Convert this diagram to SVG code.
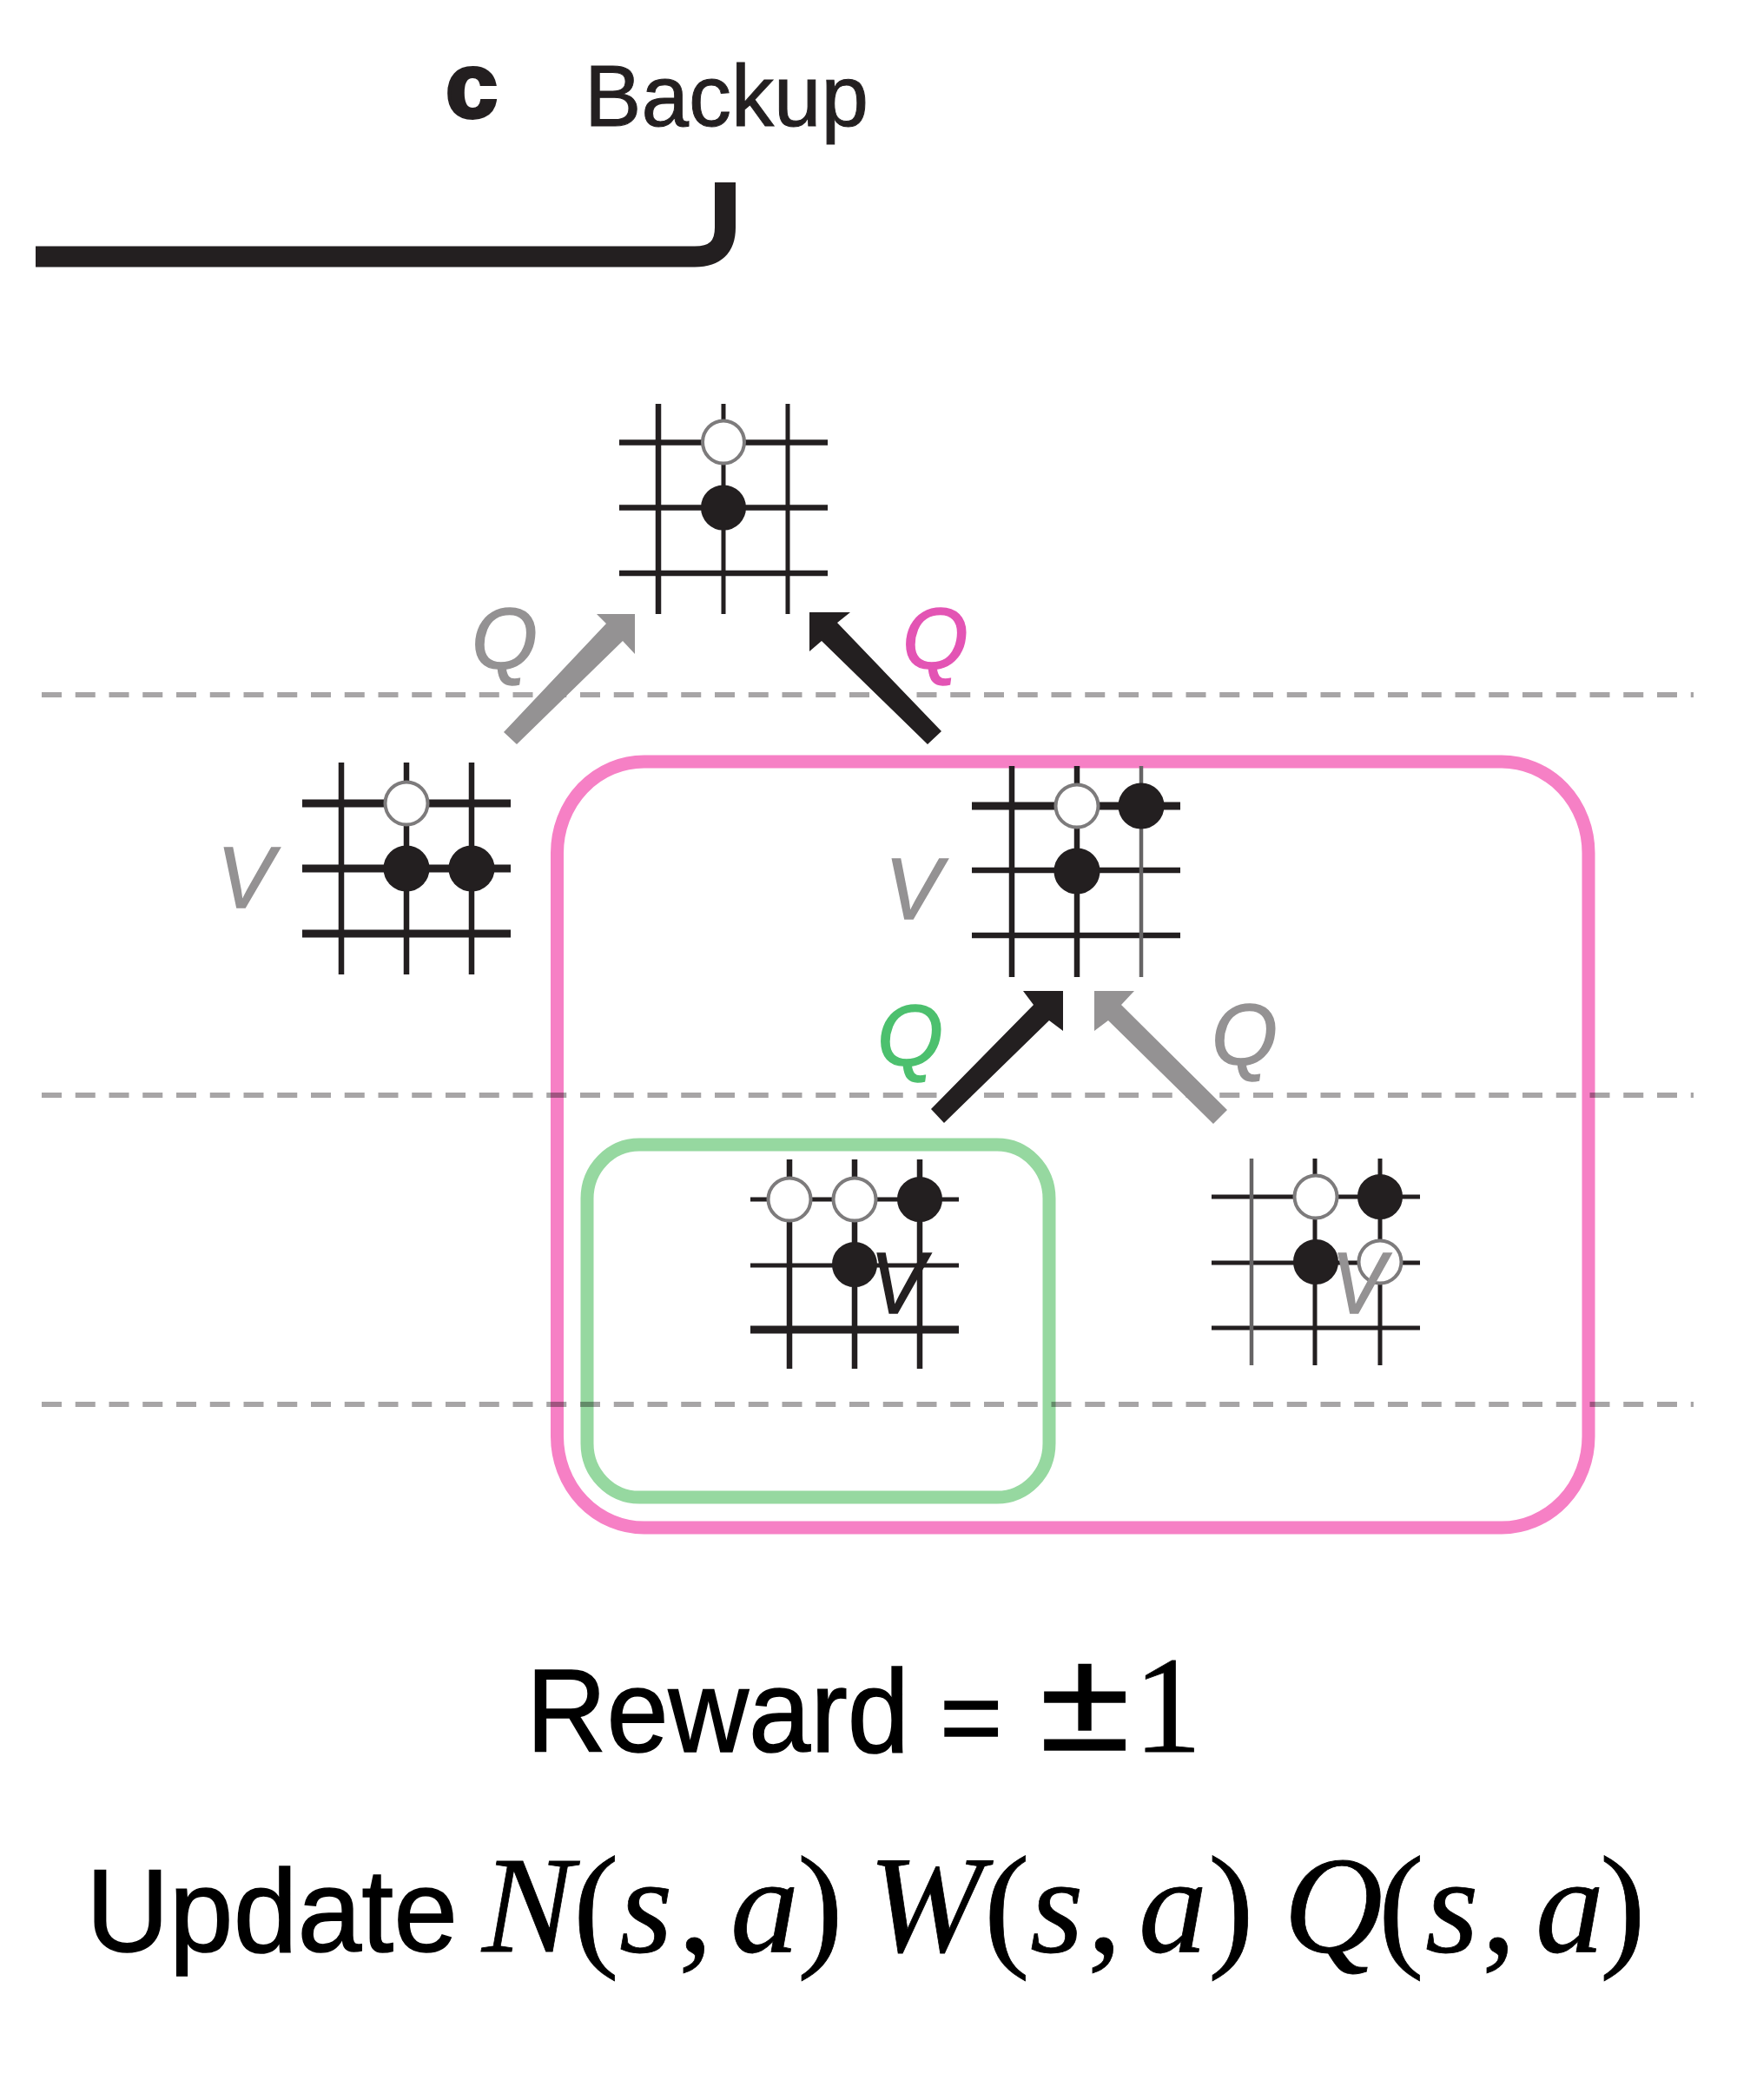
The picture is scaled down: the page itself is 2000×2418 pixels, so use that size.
<svg xmlns="http://www.w3.org/2000/svg" width="2000" height="2418" viewBox="0 0 2000 2418">
<style>
.thin{stroke:#231f20;stroke-width:5;fill:none}
.mid{stroke:#231f20;stroke-width:6.5;fill:none}
.thick{stroke:#231f20;stroke-width:9;fill:none}
.faint{stroke:#666465;stroke-width:4.5;fill:none}
.b{fill:#231f20;stroke:#231f20;stroke-width:2}
.w{fill:#fff;stroke:#7d7b7c;stroke-width:4}
.dash{stroke:#a7a5a6;stroke-width:6;stroke-dasharray:23 15.75;fill:none;mix-blend-mode:multiply}
.sans{font-family:"Liberation Sans",Arial,sans-serif}
.lab{font-family:"Liberation Sans",Arial,sans-serif;font-style:italic;font-size:100px;stroke-width:1.5}
.math{font-family:"Liberation Serif","Times New Roman",serif;font-size:158px;fill:#000;stroke:#000;stroke-width:.8}
.it{font-style:italic}
.t{font-family:"Liberation Sans",Arial,sans-serif;font-size:136px;fill:#000;stroke:#000;stroke-width:1.5}
.gray{fill:#949293;stroke:#949293}.dark{fill:#231f20;stroke:#231f20}.pink{fill:#e354b4;stroke:#e354b4}.green{fill:#4cc06e;stroke:#4cc06e}
</style>
<g id="title">
<text class="sans" fill="#231f20" x="513" y="135" font-size="106" font-weight="700" stroke="#231f20" stroke-width="4" textLength="60" lengthAdjust="spacingAndGlyphs">c</text>
<text class="sans" fill="#231f20" stroke="#231f20" stroke-width="1" x="673" y="145" font-size="100" textLength="327" lengthAdjust="spacingAndGlyphs">Backup</text>
</g>
<path id="bracket" d="M41 295.500H800Q835 295.500 835 262V210" fill="none" stroke="#231f20" stroke-width="24"/>
<g id="frames">
<rect id="pink-frame" x="641.500" y="877" width="1187.500" height="882" rx="100" ry="105" fill="none" stroke="#f680c5" stroke-width="15"/>
<rect id="green-frame" x="676" y="1318" width="532" height="406" rx="60" ry="62" fill="none" stroke="#96d8a0" stroke-width="15"/>
</g>
<g id="dashes">
<line class="dash" x1="48" y1="800" x2="1950" y2="800"/>
<line class="dash" x1="48" y1="1261" x2="1950" y2="1261"/>
<line class="dash" x1="48" y1="1617" x2="1950" y2="1617"/>
</g>
<g id="connectors">
<polygon fill="#949293" points="687,707 731,707 731,753 717,738 595,857 580,843 698,718"/>
<polygon fill="#231f20" points="932,705 979,705 964,717 1084,842 1068,857 946,738 932,750"/>
<polygon fill="#231f20" points="1178,1141 1224,1141 1224,1187 1208,1175 1087,1293 1072,1277 1190,1157"/>
<polygon fill="#949293" points="1260,1141 1306,1141 1291,1157 1413,1278 1397,1294 1276,1175 1260,1187"/>
</g>
<g id="node-root">
<path class="mid" d="M713 509.500H953M713 584.500H953M713 660H953"/>
<path class="mid" d="M758 465V707"/><path class="thin" d="M833 465V707"/><path class="thin" d="M907 465V707"/>
<ellipse class="w" cx="833" cy="509" rx="24" ry="24.500"/><circle class="b" cx="833" cy="584.500" r="25"/>
</g>
<g id="node-left">
<path class="thick" d="M348 925H588M348 1000H588M348 1075H588"/>
<path class="mid" d="M393 878V1122M468 878V1122M543 878V1122"/>
<circle class="w" cx="468" cy="925" r="24.500"/><circle class="b" cx="468" cy="1000" r="25.500"/><circle class="b" cx="543" cy="1000" r="25.500"/>
<text class="lab gray" x="250" y="1045" textLength="65" lengthAdjust="spacingAndGlyphs">V</text>
</g>
<g id="node-center">
<path class="thick" d="M1119 928H1359"/><path class="mid" d="M1119 1002H1359M1119 1077H1359"/>
<path class="mid" d="M1165 882V1125M1240 882V1125"/><path class="faint" d="M1314 882V1125"/>
<circle class="w" cx="1240" cy="928" r="24.500"/><circle class="b" cx="1314" cy="928" r="25.500"/><circle class="b" cx="1240" cy="1003" r="25.500"/>
<text class="lab gray" x="1019" y="1058" textLength="65" lengthAdjust="spacingAndGlyphs">V</text>
</g>
<g id="node-lower-left">
<path class="thin" stroke-width="6" d="M864 1381H1104M864 1457H1104"/><path class="thick" d="M864 1531H1104"/>
<path class="mid" d="M909 1335V1576M984 1335V1576M1059 1335V1576"/>
<circle class="w" cx="909" cy="1381" r="24.500"/><circle class="w" cx="984" cy="1381" r="24.500"/><circle class="b" cx="1059" cy="1381" r="25"/><circle class="b" cx="984" cy="1456" r="25"/>
<text class="lab dark" x="1002" y="1512" textLength="63" lengthAdjust="spacingAndGlyphs">V</text>
</g>
<g id="node-lower-right">
<path class="thin" d="M1395 1378H1635M1395 1454H1635M1395 1529H1635"/>
<path class="faint" d="M1441 1334V1572"/><path class="thin" d="M1514 1334V1572M1589 1334V1572"/>
<circle class="w" cx="1515" cy="1378" r="24.500"/><circle class="b" cx="1589" cy="1378" r="25"/><circle class="b" cx="1515" cy="1453" r="25"/><circle class="w" cx="1589" cy="1453" r="24.500"/>
<text class="lab gray" x="1533" y="1512" textLength="62" lengthAdjust="spacingAndGlyphs">V</text>
</g>
<g id="q-labels">
<text class="lab gray" x="543" y="770" textLength="76" lengthAdjust="spacingAndGlyphs">Q</text>
<text class="lab pink" x="1039" y="770" textLength="76" lengthAdjust="spacingAndGlyphs">Q</text>
<text class="lab green" x="1010" y="1227" textLength="76" lengthAdjust="spacingAndGlyphs">Q</text>
<text class="lab gray" x="1395" y="1226" textLength="76" lengthAdjust="spacingAndGlyphs">Q</text>
</g>
<g id="reward">
<text class="t" x="606" y="2017" textLength="441" lengthAdjust="spacingAndGlyphs">Reward</text>
<text class="t" x="1082" y="2020" style="font-size:124px">=</text>
<text class="t" x="1197" y="2015" textLength="104" lengthAdjust="spacingAndGlyphs" style="font-size:165px" stroke-width="3">±</text>
<text class="math" x="1305" y="2017">1</text>
</g>
<g id="update">
<text class="math" y="2247"><tspan class="t" x="99" textLength="428" lengthAdjust="spacingAndGlyphs">Update</tspan><tspan class="it" x="555">N</tspan><tspan x="660">(</tspan><tspan class="it" x="713">s</tspan><tspan x="781">,</tspan><tspan class="it" x="841">a</tspan><tspan x="918">)</tspan><tspan class="it" x="1000">W</tspan><tspan x="1133">(</tspan><tspan class="it" x="1186">s</tspan><tspan x="1252">,</tspan><tspan class="it" x="1311">a</tspan><tspan x="1391">)</tspan><tspan class="it" x="1478">Q</tspan><tspan x="1587">(</tspan><tspan class="it" x="1641">s</tspan><tspan x="1706">,</tspan><tspan class="it" x="1768">a</tspan><tspan x="1842">)</tspan></text>
</g>
</svg>
